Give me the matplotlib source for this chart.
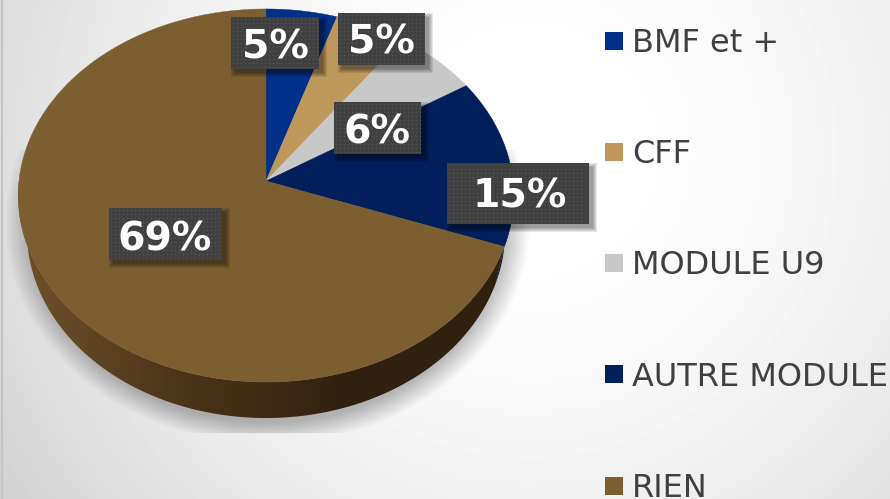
import matplotlib
matplotlib.use("Agg")
import matplotlib.pyplot as plt
import numpy as np
from matplotlib.colors import LinearSegmentedColormap
from matplotlib.patches import Polygon, Rectangle

categories = ["BMF et +", "CFF", "MODULE U9", "AUTRE MODULE", "RIEN"]
shares = [5, 5, 6, 14.6, 69.4]
colors = ["#003087", "#BE975B", "#C8C8C8", "#001F5B", "#7C5E30"]
share_labels = ["5%", "5%", "6%", "15%", "69%"]

# pie geometry in pixels, perspective factor fitted on the slice edges
APEX_X, APEX_Y = 266, 181
RX, RY, K = 247, 185.4, 0.0777
DEPTH = 36
SIDE_SCALE = 0.965
W, H = 890, 499


def rim(theta_deg, depth=0, scale=1.0):
    """Point on the tilted pie edge, theta clockwise from the top"""
    t = np.radians(theta_deg)
    w = 1 + K * np.cos(t)
    return (APEX_X + scale * RX * np.sin(t) / w,
            APEX_Y - RY * np.cos(t) / w + depth)


def rim_points(start, end, depth=0, scale=1.0, n=200):
    x, y = rim(np.linspace(start, end, n), depth, scale)
    return np.column_stack([x, y])


def draw_background(ax):
    yy, xx = np.mgrid[0:H, 0:W]
    grey = 1 - 4.55e-7 * ((xx - 530) ** 2 + (yy - 150) ** 2)
    ax.imshow(np.clip(grey, 0, 1), cmap="gray", vmin=0, vmax=1,
              extent=(0, W, H, 0), aspect="auto", zorder=0)
    ax.plot([1.5, 1.5], [0, H], color="#C4C4C4", linewidth=1.5, zorder=1)


def draw_shadow(ax):
    # soft grey halo under the pie, cut flat at the bottom like the original
    yy, xx = np.mgrid[0:H, 0:W]
    d = np.sqrt(((xx - 267) / 263) ** 2 + ((yy - 222) / 222) ** 2)
    alpha = np.clip((1.0 - d) / 0.10, 0, 1) * 0.27
    alpha[(yy > 432) | (yy < 150) | (xx < 4) | (xx > 530)] = 0
    rgba = np.zeros((H, W, 4))
    rgba[..., 3] = alpha
    ax.imshow(rgba, extent=(0, W, H, 0), aspect="auto", zorder=2)


def draw_side(ax, edges):
    # brown side, fading from lit on the left to dark under the pie
    side = np.vstack([rim_points(edges[4], 270, DEPTH, SIDE_SCALE),
                      rim_points(270, edges[4])])
    cmap = LinearSegmentedColormap.from_list(
        "side", ["#6E5129", "#4A3519", "#2F2110", "#2F2110"])
    grad = np.linspace(0, 1, W).reshape(1, -1)
    img = ax.imshow(grad, cmap=cmap, extent=(18, 513, H, 0), aspect="auto",
                    vmin=0, vmax=1, zorder=3)
    clip = Polygon(side, closed=True, transform=ax.transData)
    img.set_clip_path(clip)

    navy = np.vstack([rim_points(90, edges[4], DEPTH, SIDE_SCALE),
                      rim_points(edges[4], 90)])
    ax.add_patch(Polygon(navy, closed=True, facecolor="#00102E",
                         edgecolor="none", zorder=3))


def draw_slices(ax, edges):
    for i, color in enumerate(colors):
        pts = rim_points(edges[i], edges[i + 1])
        pts = np.vstack([[APEX_X, APEX_Y], pts])
        ax.add_patch(Polygon(pts, closed=True, facecolor=color,
                             edgecolor=color, linewidth=0.3, zorder=4))


def draw_label(ax, text, x0, y0, x1, y1, text_x, baseline):
    # blurry drop shadow made of a few stacked boxes
    for grow in (4, 3, 2, 1, 0):
        ax.add_patch(Rectangle((x0 + 4 - grow, y0 + 4 - grow),
                               x1 - x0 + 2 * grow, y1 - y0 + 2 * grow,
                               facecolor="black", alpha=0.09,
                               edgecolor="none", zorder=5))
    ax.add_patch(Rectangle((x0, y0), x1 - x0, y1 - y0, facecolor="#404040",
                           edgecolor="none", zorder=6))
    # dotted texture of the box
    gx, gy = np.meshgrid(np.arange(x0 + 2, x1, 4), np.arange(y0 + 2, y1, 4))
    keep = (np.round((gx - x0) / 4) + np.round((gy - y0) / 4)) % 2 == 0
    ax.scatter(gx[keep], gy[keep], s=1.1, color="#565656", linewidths=0,
               zorder=7)
    ax.text(text_x, baseline, text, color="white", fontsize=28.4,
            fontweight="bold", ha="center", va="baseline", zorder=8)


def draw_legend(ax):
    swatch_tops = [32, 143, 254, 365, 477]
    baselines = [52, 163, 274, 386, 497]
    for name, color, top, base in zip(categories, colors, swatch_tops, baselines):
        ax.add_patch(Rectangle((605, top), 18, 18, facecolor=color,
                               edgecolor="none", zorder=4))
        ax.text(632, base, name, color="#404040", fontsize=23, va="baseline",
                ha="left", zorder=4)


fig = plt.figure(figsize=(W / 100, H / 100), dpi=100)
ax = fig.add_axes([0, 0, 1, 1])

edges = np.concatenate([[0], np.cumsum(shares)]) / np.sum(shares) * 360

draw_background(ax)
draw_shadow(ax)
draw_side(ax, edges)
draw_slices(ax, edges)

boxes = [(231, 17, 319, 69, 275, 58), (338, 13, 425, 65, 381, 53),
         (334, 102, 421, 154, 377, 143), (447, 163, 589, 224, 520, 208),
         (109, 208, 222, 260, 165, 250)]
for label, box in zip(share_labels, boxes):
    draw_label(ax, label, *box)

draw_legend(ax)

ax.set_xlim(0, W)
ax.set_ylim(H, 0)
ax.axis("off")

fig.savefig("out.png", dpi=100)
